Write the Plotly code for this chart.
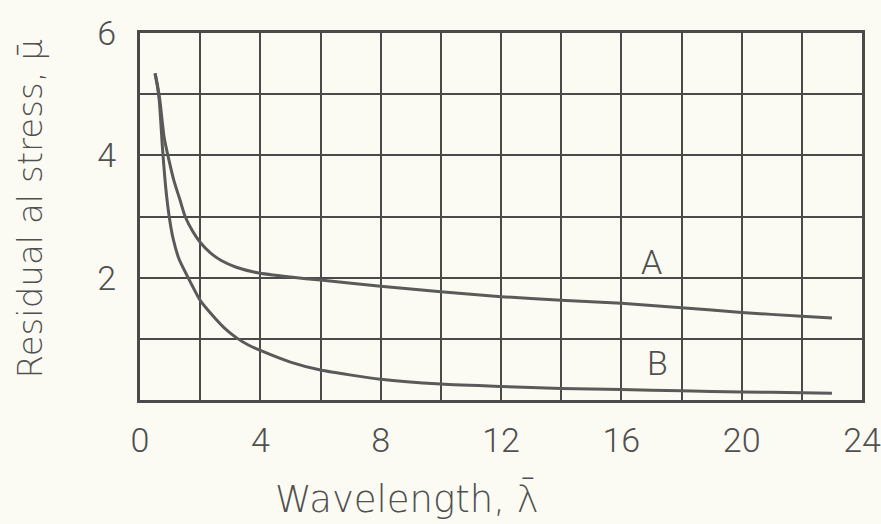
import plotly.graph_objects as go

# Curve A
a_x = [0.5, 0.58, 0.66, 0.8, 0.94, 1.12, 1.33, 1.5, 1.75, 2.0, 2.35, 2.7, 3.2, 3.9, 5, 6, 8, 10, 12, 14, 16, 18, 20, 22, 23]
a_y = [5.34, 5.15, 4.9, 4.3, 3.97, 3.6, 3.27, 3.0, 2.76, 2.58, 2.4, 2.28, 2.17, 2.08, 2.01, 1.96, 1.86, 1.77, 1.69, 1.63, 1.58, 1.51, 1.43, 1.37, 1.34]
# Curve B
b_x = [0.5, 0.57, 0.64, 0.75, 0.86, 0.97, 1.1, 1.3, 1.6, 2.0, 2.4, 2.8, 3.2, 3.6, 4, 5, 6, 8, 10, 12, 14, 16, 18, 20, 22, 23]
b_y = [5.34, 5.15, 4.9, 4.1, 3.45, 3.0, 2.64, 2.3, 2.0, 1.63, 1.39, 1.18, 1.02, 0.9, 0.81, 0.62, 0.49, 0.34, 0.26, 0.22, 0.19, 0.17, 0.15, 0.13, 0.12, 0.11]

curve_labels = ["A", "B"]
label_x = [17.0, 17.2]
label_y = [2.25, 0.6]

x_title = "Wavelength, λ̄"
y_title = "Residual al stress, μ̄"

ink = "#4a4a4a"
txt = "#505050"
line_col = "#5a5a5a"
bg = "#fbfbf3"
font_fam = "Roboto"
title_fam = "DejaVu Sans"

fig = go.Figure()
fig.add_trace(go.Scatter(x=a_x, y=a_y, mode="lines", line=dict(color=line_col, width=3, shape="spline", smoothing=0.6), name="A", showlegend=False))
fig.add_trace(go.Scatter(x=b_x, y=b_y, mode="lines", line=dict(color=line_col, width=3, shape="spline", smoothing=0.6), name="B", showlegend=False))

for t, lx, ly in zip(curve_labels, label_x, label_y):
    fig.add_annotation(x=lx, y=ly, text=t, showarrow=False,
                       font=dict(family=font_fam, size=34, color=txt, weight=300))

fig.add_annotation(xref="paper", yref="paper", x=0.37, y=-0.27, xanchor="center", yanchor="middle",
                   text=x_title, showarrow=False,
                   font=dict(family=title_fam, size=37, color=txt, weight=200))
fig.add_annotation(xref="paper", yref="paper", x=-0.152, y=0.52, xanchor="center", yanchor="middle",
                   text=y_title, showarrow=False, textangle=-90,
                   font=dict(family=title_fam, size=34, color=txt, weight=200))

fig.update_layout(
    width=881, height=524,
    margin=dict(l=140, r=19, t=33, b=124, autoexpand=False),
    paper_bgcolor=bg, plot_bgcolor=bg,
    xaxis=dict(range=[0, 24], dtick=4, tick0=0, showgrid=True, gridcolor=ink, gridwidth=2,
               minor=dict(dtick=2, showgrid=True, gridcolor=ink, gridwidth=2),
               showline=True, linecolor=ink, linewidth=3, mirror=True, zeroline=False,
               ticks="", ticklabelstandoff=8, automargin=False,
               tickfont=dict(family=font_fam, size=34, color=txt, weight=300)),
    yaxis=dict(range=[0, 6], tickvals=[2, 4, 6], showgrid=True, gridcolor=ink, gridwidth=2,
               minor=dict(dtick=1, showgrid=True, gridcolor=ink, gridwidth=2),
               showline=True, linecolor=ink, linewidth=3, mirror=True, zeroline=False,
               ticks="", ticklabelstandoff=14, automargin=False,
               tickfont=dict(family=font_fam, size=34, color=txt, weight=300)),
)

fig.write_html("out.html", config={"displayModeBar": False},
               post_script="document.body.style.margin='0';document.body.style.background='%s';" % bg)
